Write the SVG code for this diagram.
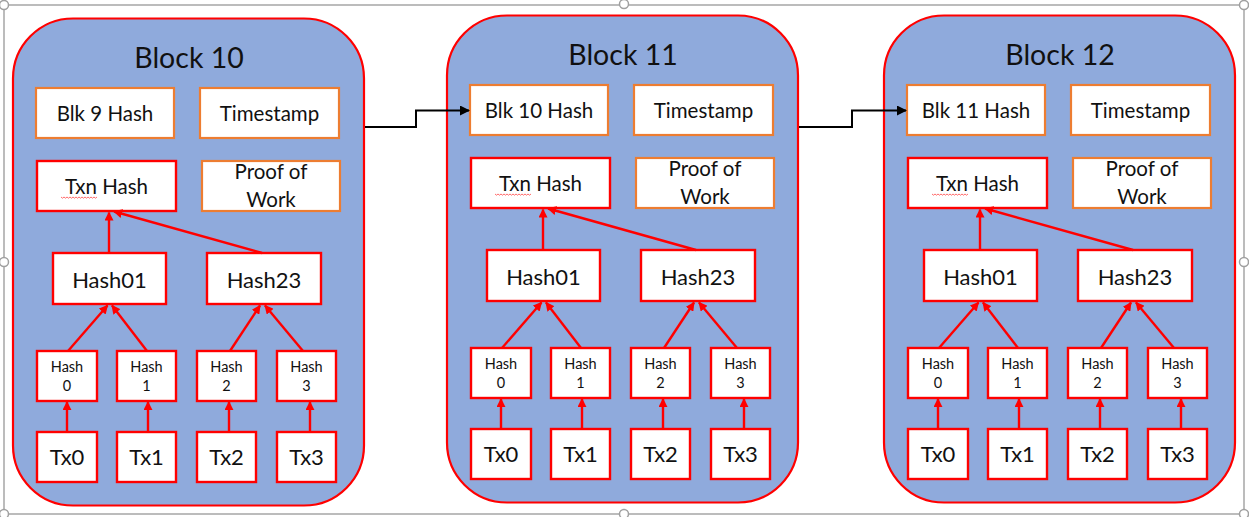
<svg xmlns="http://www.w3.org/2000/svg" width="1249" height="517" viewBox="0 0 1249 517">
<style>
.bg{fill:#ffffff}
.frame{fill:none;stroke:#a6a6a6;stroke-width:1.5}
.hdl{fill:#ffffff;stroke:#a0a0a0;stroke-width:1.5}
.blk{fill:#8FAADC;stroke:#FF0000;stroke-width:2.2}
.hdr{fill:#ffffff;stroke:#ED7D31;stroke-width:2.2}
.nd{fill:#ffffff;stroke:#FF0000;stroke-width:2.4}
.t{font-family:Lato,"Liberation Sans",sans-serif;fill:#111111;text-anchor:middle}
.ttl{font-size:28.5px}
.m{font-size:20.5px}
.l{font-size:22px}
.s{font-size:14.5px}
.sq{fill:none;stroke:#ff5a5a;stroke-width:0.9}
.ra{fill:none;stroke:#FF0000;stroke-width:2.4;marker-end:url(#rh)}
.ba{fill:none;stroke:#000000;stroke-width:2;marker-end:url(#bh)}
</style>
<defs>
<marker id="rh" viewBox="0 0 10 10" refX="9" refY="5" markerUnits="userSpaceOnUse" markerWidth="9" markerHeight="9" orient="auto">
<path d="M0,0 L10,5 L0,10 z" fill="#FF0000"/>
</marker>
<marker id="bh" viewBox="0 0 10 10" refX="9" refY="5" markerUnits="userSpaceOnUse" markerWidth="10" markerHeight="10" orient="auto">
<path d="M0,0 L10,5 L0,10 z" fill="#000000"/>
</marker>
</defs>
<rect class="bg" x="0" y="0" width="1249" height="517"/>
<g id="selection-frame">
<rect class="frame" x="4" y="5" width="1240" height="509"/>
<circle class="hdl" cx="4" cy="5" r="4.5"/>
<circle class="hdl" cx="624" cy="4" r="4.5"/>
<circle class="hdl" cx="1244" cy="5" r="4.5"/>
<circle class="hdl" cx="4" cy="262" r="4.5"/>
<circle class="hdl" cx="1244" cy="262" r="4.5"/>
<circle class="hdl" cx="4" cy="514" r="4.5"/>
<circle class="hdl" cx="624" cy="514" r="4.5"/>
<circle class="hdl" cx="1244" cy="514" r="4.5"/>
</g>

<g id="block10">
<rect class="blk" x="13" y="18.5" width="351" height="487" rx="60" ry="60"/>
<text class="t ttl" x="189" y="68">Block 10</text>
<g id="b10-prevhash"><rect class="hdr" x="36" y="88" width="138" height="50"/><text class="t m" x="105" y="121">Blk 9 Hash</text></g>
<g id="b10-timestamp"><rect class="hdr" x="200" y="88" width="139" height="50"/><text class="t m" x="269.5" y="121">Timestamp</text></g>
<g id="b10-txnhash"><rect class="nd" x="37" y="161" width="139" height="50"/><text class="t m" x="106.5" y="194">Txn Hash</text><path class="sq" d="M61,197 l1.5,1.2 l1.5,-1.2 l1.5,1.2 l1.5,-1.2 l1.5,1.2 l1.5,-1.2 l1.5,1.2 l1.5,-1.2 l1.5,1.2 l1.5,-1.2 l1.5,1.2 l1.5,-1.2 l1.5,1.2 l1.5,-1.2 l1.5,1.2 l1.5,-1.2 l1.5,1.2 l1.5,-1.2 l1.5,1.2 l1.5,-1.2 l1.5,1.2 l1.5,-1.2 l1.5,1.2 l1.5,-1.2"/></g>
<g id="b10-pow"><rect class="hdr" x="202" y="161" width="138" height="50"/><text class="t m" x="271" y="179">Proof of</text><text class="t m" x="271" y="207">Work</text></g>
<g id="b10-hash01"><rect class="nd" x="53" y="253" width="113" height="51"/><text class="t l" x="109.5" y="288">Hash01</text></g>
<g id="b10-hash23"><rect class="nd" x="207" y="253" width="114" height="51"/><text class="t l" x="264" y="288">Hash23</text></g>
<g id="b10-hash0"><rect class="nd" x="37" y="351" width="60" height="50"/><text class="t s" x="67" y="372">Hash</text><text class="t s" x="67" y="391">0</text></g>
<g id="b10-hash1"><rect class="nd" x="117" y="351" width="59" height="50"/><text class="t s" x="146.5" y="372">Hash</text><text class="t s" x="146.5" y="391">1</text></g>
<g id="b10-hash2"><rect class="nd" x="197" y="351" width="59" height="50"/><text class="t s" x="226.5" y="372">Hash</text><text class="t s" x="226.5" y="391">2</text></g>
<g id="b10-hash3"><rect class="nd" x="277" y="351" width="59" height="50"/><text class="t s" x="306.5" y="372">Hash</text><text class="t s" x="306.5" y="391">3</text></g>
<g id="b10-tx0"><rect class="nd" x="37" y="432" width="60" height="50"/><text class="t l" x="67" y="465">Tx0</text></g>
<g id="b10-tx1"><rect class="nd" x="117" y="432" width="59" height="50"/><text class="t l" x="146.5" y="465">Tx1</text></g>
<g id="b10-tx2"><rect class="nd" x="197" y="432" width="59" height="50"/><text class="t l" x="226.5" y="465">Tx2</text></g>
<g id="b10-tx3"><rect class="nd" x="277" y="432" width="59" height="50"/><text class="t l" x="306.5" y="465">Tx3</text></g>
</g>

<g id="block11" transform="translate(434,-3)">
<rect class="blk" x="13" y="18.5" width="351" height="487" rx="60" ry="60"/>
<text class="t ttl" x="189" y="68">Block 11</text>
<g id="b11-prevhash"><rect class="hdr" x="36" y="88" width="138" height="50"/><text class="t m" x="105" y="121">Blk 10 Hash</text></g>
<g id="b11-timestamp"><rect class="hdr" x="200" y="88" width="139" height="50"/><text class="t m" x="269.5" y="121">Timestamp</text></g>
<g id="b11-txnhash"><rect class="nd" x="37" y="161" width="139" height="50"/><text class="t m" x="106.5" y="194">Txn Hash</text><path class="sq" d="M61,197 l1.5,1.2 l1.5,-1.2 l1.5,1.2 l1.5,-1.2 l1.5,1.2 l1.5,-1.2 l1.5,1.2 l1.5,-1.2 l1.5,1.2 l1.5,-1.2 l1.5,1.2 l1.5,-1.2 l1.5,1.2 l1.5,-1.2 l1.5,1.2 l1.5,-1.2 l1.5,1.2 l1.5,-1.2 l1.5,1.2 l1.5,-1.2 l1.5,1.2 l1.5,-1.2 l1.5,1.2 l1.5,-1.2"/></g>
<g id="b11-pow"><rect class="hdr" x="202" y="161" width="138" height="50"/><text class="t m" x="271" y="179">Proof of</text><text class="t m" x="271" y="207">Work</text></g>
<g id="b11-hash01"><rect class="nd" x="53" y="253" width="113" height="51"/><text class="t l" x="109.5" y="288">Hash01</text></g>
<g id="b11-hash23"><rect class="nd" x="207" y="253" width="114" height="51"/><text class="t l" x="264" y="288">Hash23</text></g>
<g id="b11-hash0"><rect class="nd" x="37" y="351" width="60" height="50"/><text class="t s" x="67" y="372">Hash</text><text class="t s" x="67" y="391">0</text></g>
<g id="b11-hash1"><rect class="nd" x="117" y="351" width="59" height="50"/><text class="t s" x="146.5" y="372">Hash</text><text class="t s" x="146.5" y="391">1</text></g>
<g id="b11-hash2"><rect class="nd" x="197" y="351" width="59" height="50"/><text class="t s" x="226.5" y="372">Hash</text><text class="t s" x="226.5" y="391">2</text></g>
<g id="b11-hash3"><rect class="nd" x="277" y="351" width="59" height="50"/><text class="t s" x="306.5" y="372">Hash</text><text class="t s" x="306.5" y="391">3</text></g>
<g id="b11-tx0"><rect class="nd" x="37" y="432" width="60" height="50"/><text class="t l" x="67" y="465">Tx0</text></g>
<g id="b11-tx1"><rect class="nd" x="117" y="432" width="59" height="50"/><text class="t l" x="146.5" y="465">Tx1</text></g>
<g id="b11-tx2"><rect class="nd" x="197" y="432" width="59" height="50"/><text class="t l" x="226.5" y="465">Tx2</text></g>
<g id="b11-tx3"><rect class="nd" x="277" y="432" width="59" height="50"/><text class="t l" x="306.5" y="465">Tx3</text></g>
</g>

<g id="block12" transform="translate(871,-3)">
<rect class="blk" x="13" y="18.5" width="351" height="487" rx="60" ry="60"/>
<text class="t ttl" x="189" y="68">Block 12</text>
<g id="b12-prevhash"><rect class="hdr" x="36" y="88" width="138" height="50"/><text class="t m" x="105" y="121">Blk 11 Hash</text></g>
<g id="b12-timestamp"><rect class="hdr" x="200" y="88" width="139" height="50"/><text class="t m" x="269.5" y="121">Timestamp</text></g>
<g id="b12-txnhash"><rect class="nd" x="37" y="161" width="139" height="50"/><text class="t m" x="106.5" y="194">Txn Hash</text><path class="sq" d="M61,197 l1.5,1.2 l1.5,-1.2 l1.5,1.2 l1.5,-1.2 l1.5,1.2 l1.5,-1.2 l1.5,1.2 l1.5,-1.2 l1.5,1.2 l1.5,-1.2 l1.5,1.2 l1.5,-1.2 l1.5,1.2 l1.5,-1.2 l1.5,1.2 l1.5,-1.2 l1.5,1.2 l1.5,-1.2 l1.5,1.2 l1.5,-1.2 l1.5,1.2 l1.5,-1.2 l1.5,1.2 l1.5,-1.2"/></g>
<g id="b12-pow"><rect class="hdr" x="202" y="161" width="138" height="50"/><text class="t m" x="271" y="179">Proof of</text><text class="t m" x="271" y="207">Work</text></g>
<g id="b12-hash01"><rect class="nd" x="53" y="253" width="113" height="51"/><text class="t l" x="109.5" y="288">Hash01</text></g>
<g id="b12-hash23"><rect class="nd" x="207" y="253" width="114" height="51"/><text class="t l" x="264" y="288">Hash23</text></g>
<g id="b12-hash0"><rect class="nd" x="37" y="351" width="60" height="50"/><text class="t s" x="67" y="372">Hash</text><text class="t s" x="67" y="391">0</text></g>
<g id="b12-hash1"><rect class="nd" x="117" y="351" width="59" height="50"/><text class="t s" x="146.5" y="372">Hash</text><text class="t s" x="146.5" y="391">1</text></g>
<g id="b12-hash2"><rect class="nd" x="197" y="351" width="59" height="50"/><text class="t s" x="226.5" y="372">Hash</text><text class="t s" x="226.5" y="391">2</text></g>
<g id="b12-hash3"><rect class="nd" x="277" y="351" width="59" height="50"/><text class="t s" x="306.5" y="372">Hash</text><text class="t s" x="306.5" y="391">3</text></g>
<g id="b12-tx0"><rect class="nd" x="37" y="432" width="60" height="50"/><text class="t l" x="67" y="465">Tx0</text></g>
<g id="b12-tx1"><rect class="nd" x="117" y="432" width="59" height="50"/><text class="t l" x="146.5" y="465">Tx1</text></g>
<g id="b12-tx2"><rect class="nd" x="197" y="432" width="59" height="50"/><text class="t l" x="226.5" y="465">Tx2</text></g>
<g id="b12-tx3"><rect class="nd" x="277" y="432" width="59" height="50"/><text class="t l" x="306.5" y="465">Tx3</text></g>
</g>

<g id="connectors">
<g id="tree10">
<path class="ra" d="M67,432 V402"/>
<path class="ra" d="M148,432 V402"/>
<path class="ra" d="M229,432 V402"/>
<path class="ra" d="M310,432 V402"/>
<path class="ra" d="M68,351 L107.5,305.5"/>
<path class="ra" d="M147,351 L112,305.5"/>
<path class="ra" d="M230,351 L260,305.5"/>
<path class="ra" d="M303,351 L265,305.5"/>
<path class="ra" d="M109,253 V212.5"/>
<path class="ra" d="M262,253 L114,211.5"/>
</g>
<g id="tree11" transform="translate(434,-3)">
<path class="ra" d="M67,432 V402"/>
<path class="ra" d="M148,432 V402"/>
<path class="ra" d="M229,432 V402"/>
<path class="ra" d="M310,432 V402"/>
<path class="ra" d="M68,351 L107.5,305.5"/>
<path class="ra" d="M147,351 L112,305.5"/>
<path class="ra" d="M230,351 L260,305.5"/>
<path class="ra" d="M303,351 L265,305.5"/>
<path class="ra" d="M109,253 V212.5"/>
<path class="ra" d="M262,253 L114,211.5"/>
</g>
<g id="tree12" transform="translate(871,-3)">
<path class="ra" d="M67,432 V402"/>
<path class="ra" d="M148,432 V402"/>
<path class="ra" d="M229,432 V402"/>
<path class="ra" d="M310,432 V402"/>
<path class="ra" d="M68,351 L107.5,305.5"/>
<path class="ra" d="M147,351 L112,305.5"/>
<path class="ra" d="M230,351 L260,305.5"/>
<path class="ra" d="M303,351 L265,305.5"/>
<path class="ra" d="M109,253 V212.5"/>
<path class="ra" d="M262,253 L114,211.5"/>
</g>
<path id="link10-11" class="ba" d="M365,127 H416 V110.5 H469"/>
<path id="link11-12" class="ba" d="M799,127 H852 V110.5 H906"/>
</g>
</svg>
